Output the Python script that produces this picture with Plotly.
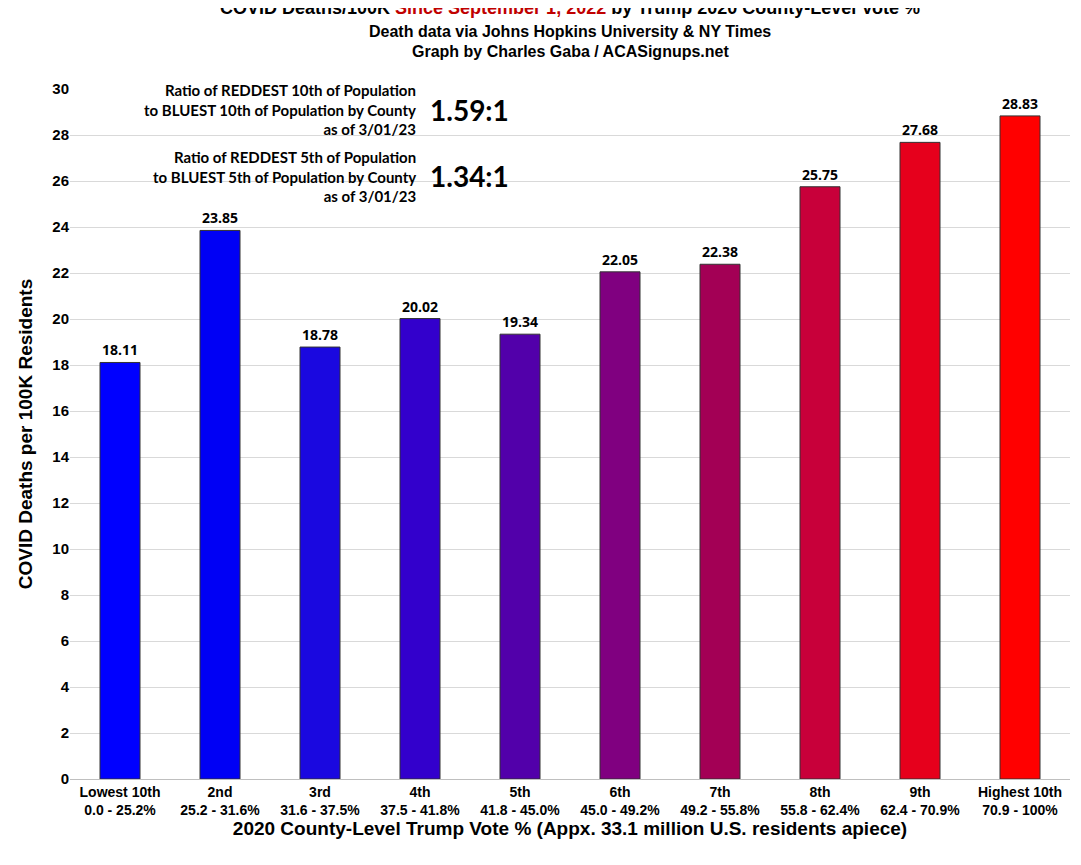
import plotly.graph_objects as go

# === Data ===
deciles = ['Lowest 10th', '2nd', '3rd', '4th', '5th', '6th', '7th', '8th', '9th', 'Highest 10th']
ranges = ['0.0 - 25.2%', '25.2 - 31.6%', '31.6 - 37.5%', '37.5 - 41.8%', '41.8 - 45.0%',
          '45.0 - 49.2%', '49.2 - 55.8%', '55.8 - 62.4%', '62.4 - 70.9%', '70.9 - 100%']
deaths = [18.11, 23.85, 18.78, 20.02, 19.34, 22.05, 22.38, 25.75, 27.68, 28.83]
colors = ['#0000ff', '#0000f5', '#1a08e0', '#3300cc', '#5200aa', '#800080',
          '#a30055', '#c8003a', '#e6001c', '#ff0000']

labels = [f"{d}<br>{r}" for d, r in zip(deciles, ranges)]
narrow = "Liberation Sans Narrow, Arial Narrow, Liberation Sans, Arial"

fig = go.Figure()
fig.add_trace(go.Bar(
    x=labels, y=deaths,
    marker=dict(color=colors, line=dict(color='#333333', width=1)),
    text=[f"{v:.2f}" for v in deaths], textposition='outside',
    textfont=dict(family='Open Sans, Arial', size=14, color='black', weight='bold'),
    cliponaxis=False,
))

notes = [
    (29.1, "Ratio of REDDEST 10th of Population<br>to BLUEST 10th of Population by County<br>as of 3/01/23", "1.59:1"),
    (26.2, "Ratio of REDDEST 5th of Population<br>to BLUEST 5th of Population by County<br>as of 3/01/23", "1.34:1"),
]
for y, txt, big in notes:
    fig.add_annotation(x=0.348, y=y, xref='paper', yref='y', text=txt, showarrow=False,
                       xanchor='right', align='right',
                       font=dict(family='Lato, Open Sans, Arial', size=15, color='black', weight='bold'))
    fig.add_annotation(x=0.358, y=y, xref='paper', yref='y', text=big, showarrow=False,
                       xanchor='left',
                       font=dict(family='Lato, Open Sans, Arial', size=28, color='black', weight='bold'))

# === Title lines ===
title_lines = [
    ("COVID Deaths/100K <span style='color:#c00000'>Since September 1, 2022</span> by Trump 2020 County-Level Vote %", 18, 81),
    ("Death data via Johns Hopkins University & NY Times", 16, 58),
    ("Graph by Charles Gaba / ACASignups.net", 16, 38),
]
for txt, size, dy in title_lines:
    fig.add_annotation(x=0.5, y=1, xref='paper', yref='paper', yshift=dy, text=txt,
                       showarrow=False, xanchor='center', yanchor='middle',
                       font=dict(family='Liberation Sans, Arial', size=size, color='black', weight='bold'))

fig.update_layout(
    width=1065, height=849,
    margin=dict(l=62, r=3, t=81, b=78),
    plot_bgcolor='white', paper_bgcolor='white',
    bargap=0.6, showlegend=False,
    xaxis=dict(
        tickfont=dict(family=narrow, size=14, color='black', weight='bold'),
        title=dict(text="2020 County-Level Trump Vote % (Appx. 33.1 million U.S. residents apiece)",
                   font=dict(family=narrow, size=19, color='black', weight='bold'), standoff=2),
        showline=True, linecolor='#bfbfbf', ticks='',
    ),
    yaxis=dict(
        range=[0, 30], dtick=2,
        tickfont=dict(family=narrow, size=15, color='black', weight='bold'),
        title=dict(text="COVID Deaths per 100K Residents",
                   font=dict(family='Liberation Sans, Arial', size=19, color='black', weight='bold'), standoff=14),
        gridcolor='#d9d9d9', zeroline=False, ticks='',
    ),
)

fig.write_html("out.html")
